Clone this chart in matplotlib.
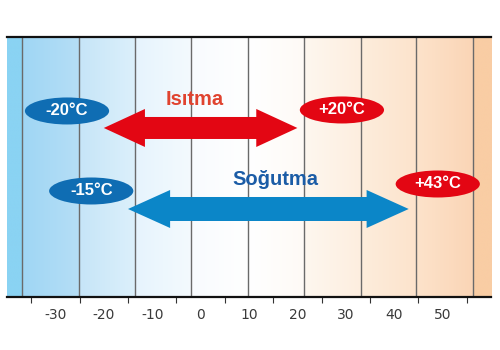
import numpy as np
import matplotlib
matplotlib.use('Agg')
import matplotlib.pyplot as plt
from matplotlib.colors import LinearSegmentedColormap
from matplotlib.patches import Ellipse, Polygon

# temperature axis
tick_labels = [-30, -20, -10, 0, 10, 20, 30, 40, 50]
tick_marks = [-35, -25, -15, -5, 5, 15, 25, 35, 45, 55]
grid_x = [-36.8, -25.2, -13.6, -1.9, 9.7, 21.3, 33.1, 44.6, 56.2]

# operating ranges
heat_name = 'Isıtma'
heat_range = [-20, 20]
cool_name = 'Soğutma'
cool_range = [-15, 43]

RED = '#e30613'
BLUE_ARROW = '#0b86c8'
BLUE_PILL = '#0f6db3'
NARROW = ['Liberation Sans Narrow', 'Liberation Sans', 'DejaVu Sans']

# background band colours (left edge, right edge) between the grid lines
band_colors = [('#8ad3f3', '#8ad3f3'),
               ('#9fd6f4', '#b5def6'),
               ('#c6e5f8', '#dcf0fb'),
               ('#e6f4fd', '#f4fafe'),
               ('#f8fbfe', '#ffffff'),
               ('#ffffff', '#fefaf6'),
               ('#fef7ef', '#fdeedf'),
               ('#fdeddc', '#fce3cc'),
               ('#fde3cb', '#fad5b6'),
               ('#f9cda4', '#f9cda4')]


def double_arrow(ax, x0, x1, y, shaft, head_w, head_l, color):
    pts = [(x0, y),
           (x0 + head_l, y + head_w / 2), (x0 + head_l, y + shaft / 2),
           (x1 - head_l, y + shaft / 2), (x1 - head_l, y + head_w / 2),
           (x1, y),
           (x1 - head_l, y - head_w / 2), (x1 - head_l, y - shaft / 2),
           (x0 + head_l, y - shaft / 2), (x0 + head_l, y - head_w / 2)]
    ax.add_patch(Polygon(pts, closed=True, facecolor=color, edgecolor='none', zorder=4))


def pill(ax, x, y, text, color):
    ax.add_patch(Ellipse((x, y), 17.4, 27, facecolor=color, edgecolor='none', zorder=5))
    ax.text(x, y, text, color='white', fontsize=12, fontweight='bold', family=NARROW,
            ha='center', va='center', zorder=6)


def main():
    fig = plt.figure(figsize=(5, 3.5), dpi=100)
    ax = fig.add_axes([0.014, 0.1514, 0.968, 0.743])
    ax.set_xlim(-40, 60)
    ax.set_ylim(0, 260)

    # stepped background gradient blue -> white -> peach
    edges = [-40] + grid_x + [60]
    grad = np.linspace(0, 1, 100).reshape(1, -1)
    for i, (c0, c1) in enumerate(band_colors):
        cm = LinearSegmentedColormap.from_list('b%d' % i, [c0, c1])
        ax.imshow(grad, cmap=cm, extent=(edges[i], edges[i + 1], 0, 260),
                  aspect='auto', zorder=0, interpolation='bilinear')

    for gx in grid_x:
        ax.axvline(gx, color='#6a6a6a', lw=1.0, zorder=1)

    # arrows
    double_arrow(ax, heat_range[0], heat_range[1], 169, 22, 38, 8.5, RED)
    double_arrow(ax, cool_range[0], cool_range[1], 88, 24, 38, 8.7, BLUE_ARROW)

    ax.text(-1.3, 197, heat_name, color='#e0432f', fontsize=14.5, fontweight='bold',
            family=NARROW, ha='center', va='center', zorder=6)
    ax.text(15.5, 117, cool_name, color='#1b5ca6', fontsize=14.5, fontweight='bold',
            family=NARROW, ha='center', va='center', zorder=6)

    pill(ax, heat_range[0] - 7.6, 186, '-%d°C' % abs(heat_range[0]), BLUE_PILL)
    pill(ax, heat_range[1] + 9.2, 187, '+%d°C' % heat_range[1], RED)
    pill(ax, cool_range[0] - 7.6, 106, '-%d°C' % abs(cool_range[0]), BLUE_PILL)
    pill(ax, cool_range[1] + 6.0, 113, '+%d°C' % cool_range[1], RED)

    # axes frame: only top and bottom lines
    for s in ['left', 'right']:
        ax.spines[s].set_visible(False)
    for s in ['top', 'bottom']:
        ax.spines[s].set_linewidth(1.6)
        ax.spines[s].set_color('#111111')
        ax.spines[s].set_zorder(7)

    ax.set_yticks([])
    ax.set_xticks(tick_marks)
    ax.set_xticklabels([])
    ax.tick_params(axis='x', which='major', direction='out', length=4, width=0.8,
                   color='#333333')
    ax.set_xticks(tick_labels, minor=True)
    ax.set_xticklabels([str(v) for v in tick_labels], minor=True)
    ax.tick_params(axis='x', which='minor', length=0, labelsize=10,
                   labelcolor='#3a3a3a', pad=8)

    fig.savefig('out.png', dpi=100, facecolor='white')


if __name__ == '__main__':
    main()
